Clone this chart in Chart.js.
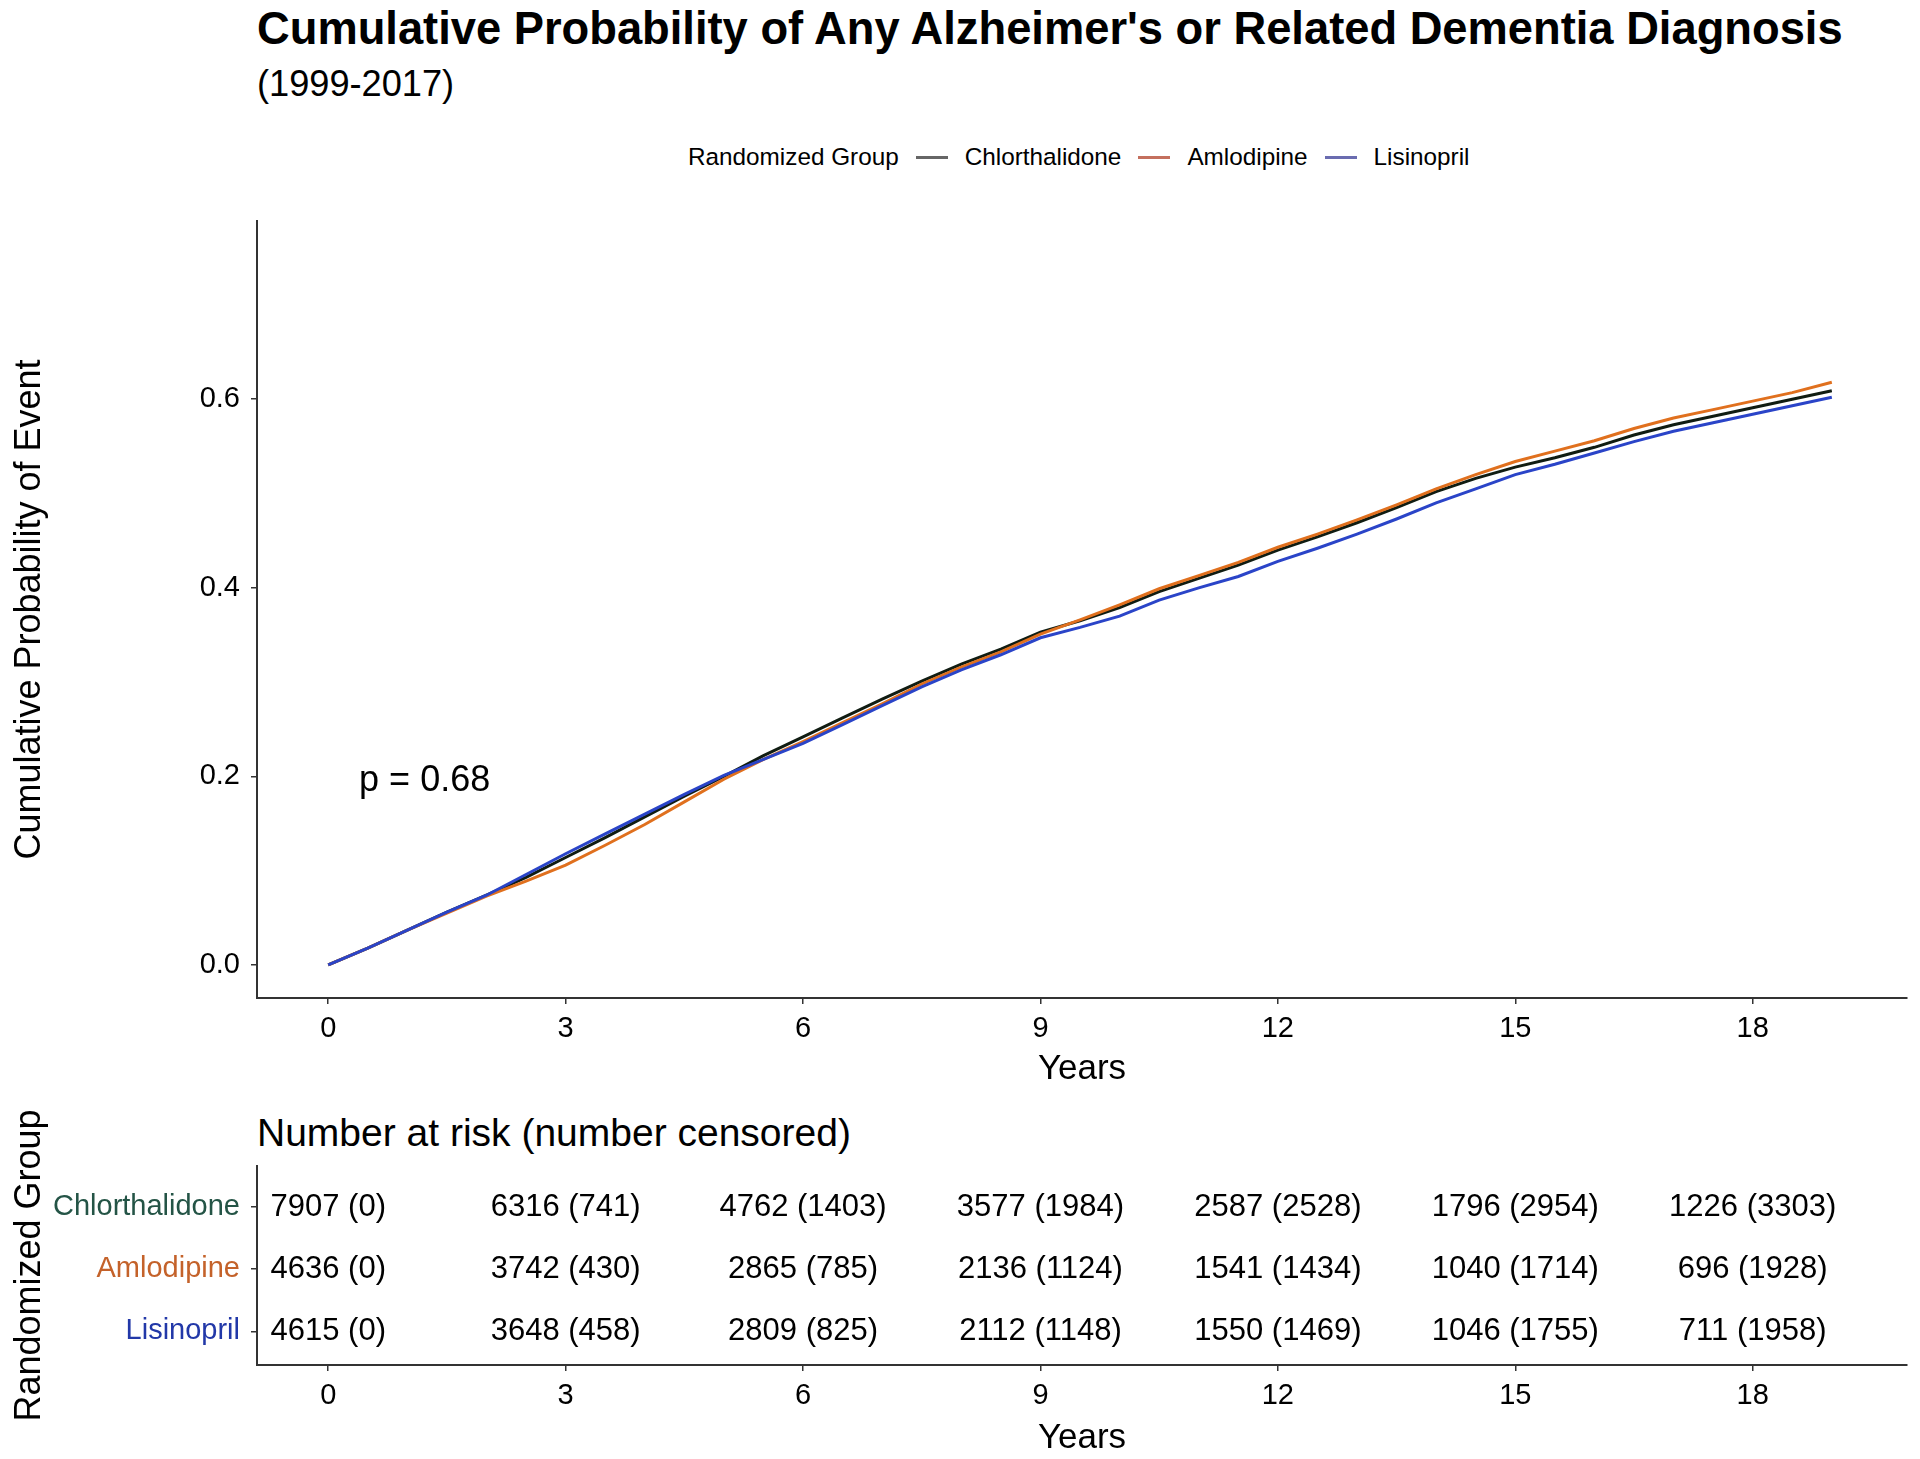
<!DOCTYPE html>
<html>
<head>
<meta charset="utf-8">
<script src="https://cdn.jsdelivr.net/npm/chart.js@4.4.1/dist/chart.umd.min.js"></script>
<style>
  body { margin:0; background:#fff; width:1920px; height:1459px; position:relative; overflow:hidden;
         font-family:"Liberation Sans", Arial, sans-serif; color:#000; }
  .txt { position:absolute; white-space:nowrap; line-height:1; }
  #title { left:257px; top:6px; font-size:45.3px; font-weight:bold; }
  #subtitle { left:257px; top:66px; font-size:36.2px; }
  #legend { left:688px; top:145px; font-size:24.3px; display:flex; align-items:center; }
  .key { display:inline-block; width:32px; height:3px; margin:0 17px; }
  #riskTitle { left:257px; top:1113px; font-size:39px; }
  canvas { position:absolute; left:0; }
</style>
</head>
<body>
<div id="title" class="txt">Cumulative Probability of Any Alzheimer's or Related Dementia Diagnosis</div>
<div id="subtitle" class="txt">(1999-2017)</div>
<div id="legend" class="txt">
  <span>Randomized Group</span><span class="key" style="background:#666666"></span>
  <span>Chlorthalidone</span><span class="key" style="background:#c4705e"></span>
  <span>Amlodipine</span><span class="key" style="background:#6a6cb0"></span>
  <span>Lisinopril</span>
</div>
<div id="riskTitle" class="txt">Number at risk (number censored)</div>
<canvas id="curve" width="1920" height="1090" style="top:0"></canvas>
<canvas id="risk" width="1920" height="369" style="top:1090px"></canvas>
<script>
// lecture des courbes (années)
const years = [0,0.5,1,1.5,2,2.5,3,3.5,4,4.5,5,5.5,6,6.5,7,7.5,8,8.5,9,9.5,10,10.5,11,11.5,12,12.5,13,13.5,14,14.5,15,15.5,16,16.5,17,17.5,18,18.5,19];
const chlorProb = [0,0.018,0.037,0.056,0.074,0.093,0.114,0.135,0.157,0.179,0.200,0.222,0.242,0.262,0.282,0.301,0.319,0.335,0.353,0.365,0.379,0.396,0.410,0.424,0.440,0.454,0.469,0.485,0.502,0.516,0.528,0.538,0.549,0.562,0.573,0.582,0.591,0.600,0.609];
const amloProb = [0,0.018,0.037,0.055,0.073,0.089,0.106,0.127,0.149,0.173,0.197,0.218,0.237,0.257,0.277,0.298,0.316,0.332,0.351,0.366,0.382,0.399,0.413,0.427,0.443,0.457,0.472,0.488,0.505,0.520,0.534,0.545,0.556,0.569,0.580,0.589,0.598,0.607,0.618];
const lisinProb = [0,0.018,0.037,0.056,0.074,0.096,0.118,0.139,0.160,0.181,0.201,0.218,0.235,0.255,0.275,0.295,0.313,0.329,0.347,0.358,0.370,0.387,0.400,0.412,0.428,0.442,0.457,0.473,0.490,0.505,0.520,0.531,0.543,0.555,0.566,0.575,0.584,0.593,0.602];

const xTicks = [0,3,6,9,12,15,18];
const yTicks = [0,0.2,0.4,0.6];
const pText = 'p = 0.68';
const pPos = [0.39, 0.195];

// tableau des effectifs
const riskTimes = [0,3,6,9,12,15,18];
const groupNames = ['Chlorthalidone','Amlodipine','Lisinopril'];
const chlorAtRisk = [7907,6316,4762,3577,2587,1796,1226];
const chlorCensored = [0,741,1403,1984,2528,2954,3303];
const amloAtRisk = [4636,3742,2865,2136,1541,1040,696];
const amloCensored = [0,430,785,1124,1434,1714,1928];
const lisinAtRisk = [4615,3648,2809,2112,1550,1046,711];
const lisinCensored = [0,458,825,1148,1469,1755,1958];

const FONT = '"Liberation Sans", Arial, sans-serif';
const lineColors = ['#101c12','#e0701e','#2a44c8'];
const labelColors = ['#245446','#c4622a','#2238a8'];

function toPoints(arr) {
  return years.map((t, i) => ({ x: t, y: arr[i] }));
}

function axisX(boxHeight) {
  return {
    type: 'linear', min: -0.9, max: 19.95,
    afterBuildTicks: s => { s.ticks = xTicks.map(v => ({ value: v })); },
    afterFit: s => { s.height = boxHeight; },
    grid: { drawOnChartArea: false, drawTicks: true, tickLength: 6, color: '#333', lineWidth: 1.5 },
    border: { display: true, color: '#333', width: 2 },
    ticks: { font: { family: FONT, size: 29 }, color: '#000', padding: 8, maxRotation: 0, autoSkip: false },
    title: { display: true, text: 'Years', font: { family: FONT, size: 35 }, color: '#000', padding: { top: 0, bottom: 0 } }
  };
}

// annotation p-value
const pValuePlugin = {
  id: 'pValue',
  afterDatasetsDraw(chart) {
    const { ctx, scales: { x, y } } = chart;
    ctx.save();
    ctx.font = `36px ${FONT}`;
    ctx.fillStyle = '#000';
    ctx.textAlign = 'left';
    ctx.textBaseline = 'middle';
    ctx.fillText(pText, x.getPixelForValue(pPos[0]), y.getPixelForValue(pPos[1]));
    ctx.restore();
  }
};

// textes du tableau
const riskTextPlugin = {
  id: 'riskText',
  afterDatasetsDraw(chart) {
    const ctx = chart.ctx;
    ctx.save();
    ctx.font = `31px ${FONT}`;
    ctx.fillStyle = '#000';
    ctx.textAlign = 'center';
    ctx.textBaseline = 'middle';
    chart.data.datasets.forEach((ds, di) => {
      chart.getDatasetMeta(di).data.forEach((pt, i) => {
        ctx.fillText(`${ds.atRisk[i]} (${ds.censored[i]})`, pt.x, pt.y);
      });
    });
    ctx.restore();
  }
};

new Chart(document.getElementById('curve'), {
  type: 'line',
  data: {
    datasets: [
      { label: 'Chlorthalidone', data: toPoints(chlorProb), borderColor: lineColors[0], borderWidth: 3, pointRadius: 0, tension: 0, order: 3 },
      { label: 'Amlodipine', data: toPoints(amloProb), borderColor: lineColors[1], borderWidth: 3, pointRadius: 0, tension: 0, order: 2 },
      { label: 'Lisinopril', data: toPoints(lisinProb), borderColor: lineColors[2], borderWidth: 3, pointRadius: 0, tension: 0, order: 1 }
    ]
  },
  options: {
    responsive: false, animation: false,
    layout: { padding: { left: 0, right: 13, top: 221, bottom: 0 } },
    plugins: { legend: { display: false }, tooltip: { enabled: false } },
    scales: {
      x: axisX(92),
      y: {
        type: 'linear', min: -0.035, max: 0.789,
        afterBuildTicks: s => { s.ticks = yTicks.map(v => ({ value: v })); },
        afterFit: s => { s.width = 257; },
        grid: { drawOnChartArea: false, drawTicks: true, tickLength: 6, color: '#333', lineWidth: 1.5 },
        border: { display: true, color: '#333', width: 2 },
        ticks: { font: { family: FONT, size: 29 }, color: '#000', padding: 11, callback: v => v.toFixed(1) },
        title: { display: true, text: 'Cumulative Probability of Event', font: { family: FONT, size: 36 }, color: '#000', padding: { top: 8, bottom: 0 } }
      }
    }
  },
  plugins: [pValuePlugin]
});

const riskRows = [
  { atRisk: chlorAtRisk, censored: chlorCensored, row: 3 },
  { atRisk: amloAtRisk, censored: amloCensored, row: 2 },
  { atRisk: lisinAtRisk, censored: lisinCensored, row: 1 }
];

new Chart(document.getElementById('risk'), {
  type: 'scatter',
  data: {
    datasets: riskRows.map((r, i) => ({
      label: groupNames[i],
      data: riskTimes.map(t => ({ x: t, y: r.row })),
      atRisk: r.atRisk, censored: r.censored,
      pointRadius: 0
    }))
  },
  options: {
    responsive: false, animation: false,
    layout: { padding: { left: 0, right: 13, top: 76, bottom: 0 } },
    plugins: { legend: { display: false }, tooltip: { enabled: false } },
    scales: {
      x: axisX(94),
      y: {
        type: 'linear', min: 0.46, max: 3.66,
        afterBuildTicks: s => { s.ticks = [1, 2, 3].map(v => ({ value: v })); },
        afterFit: s => { s.width = 257; },
        grid: { drawOnChartArea: false, drawTicks: true, tickLength: 6, color: '#333', lineWidth: 1.5 },
        border: { display: true, color: '#333', width: 2 },
        ticks: {
          font: { family: FONT, size: 29 }, padding: 11,
          callback: v => groupNames[3 - v],
          color: c => labelColors[3 - c.tick.value]
        },
        title: { display: true, text: 'Randomized Group', font: { family: FONT, size: 36 }, color: '#000', padding: { top: 8, bottom: 0 } }
      }
    }
  },
  plugins: [riskTextPlugin]
});
</script>
</body>
</html>
